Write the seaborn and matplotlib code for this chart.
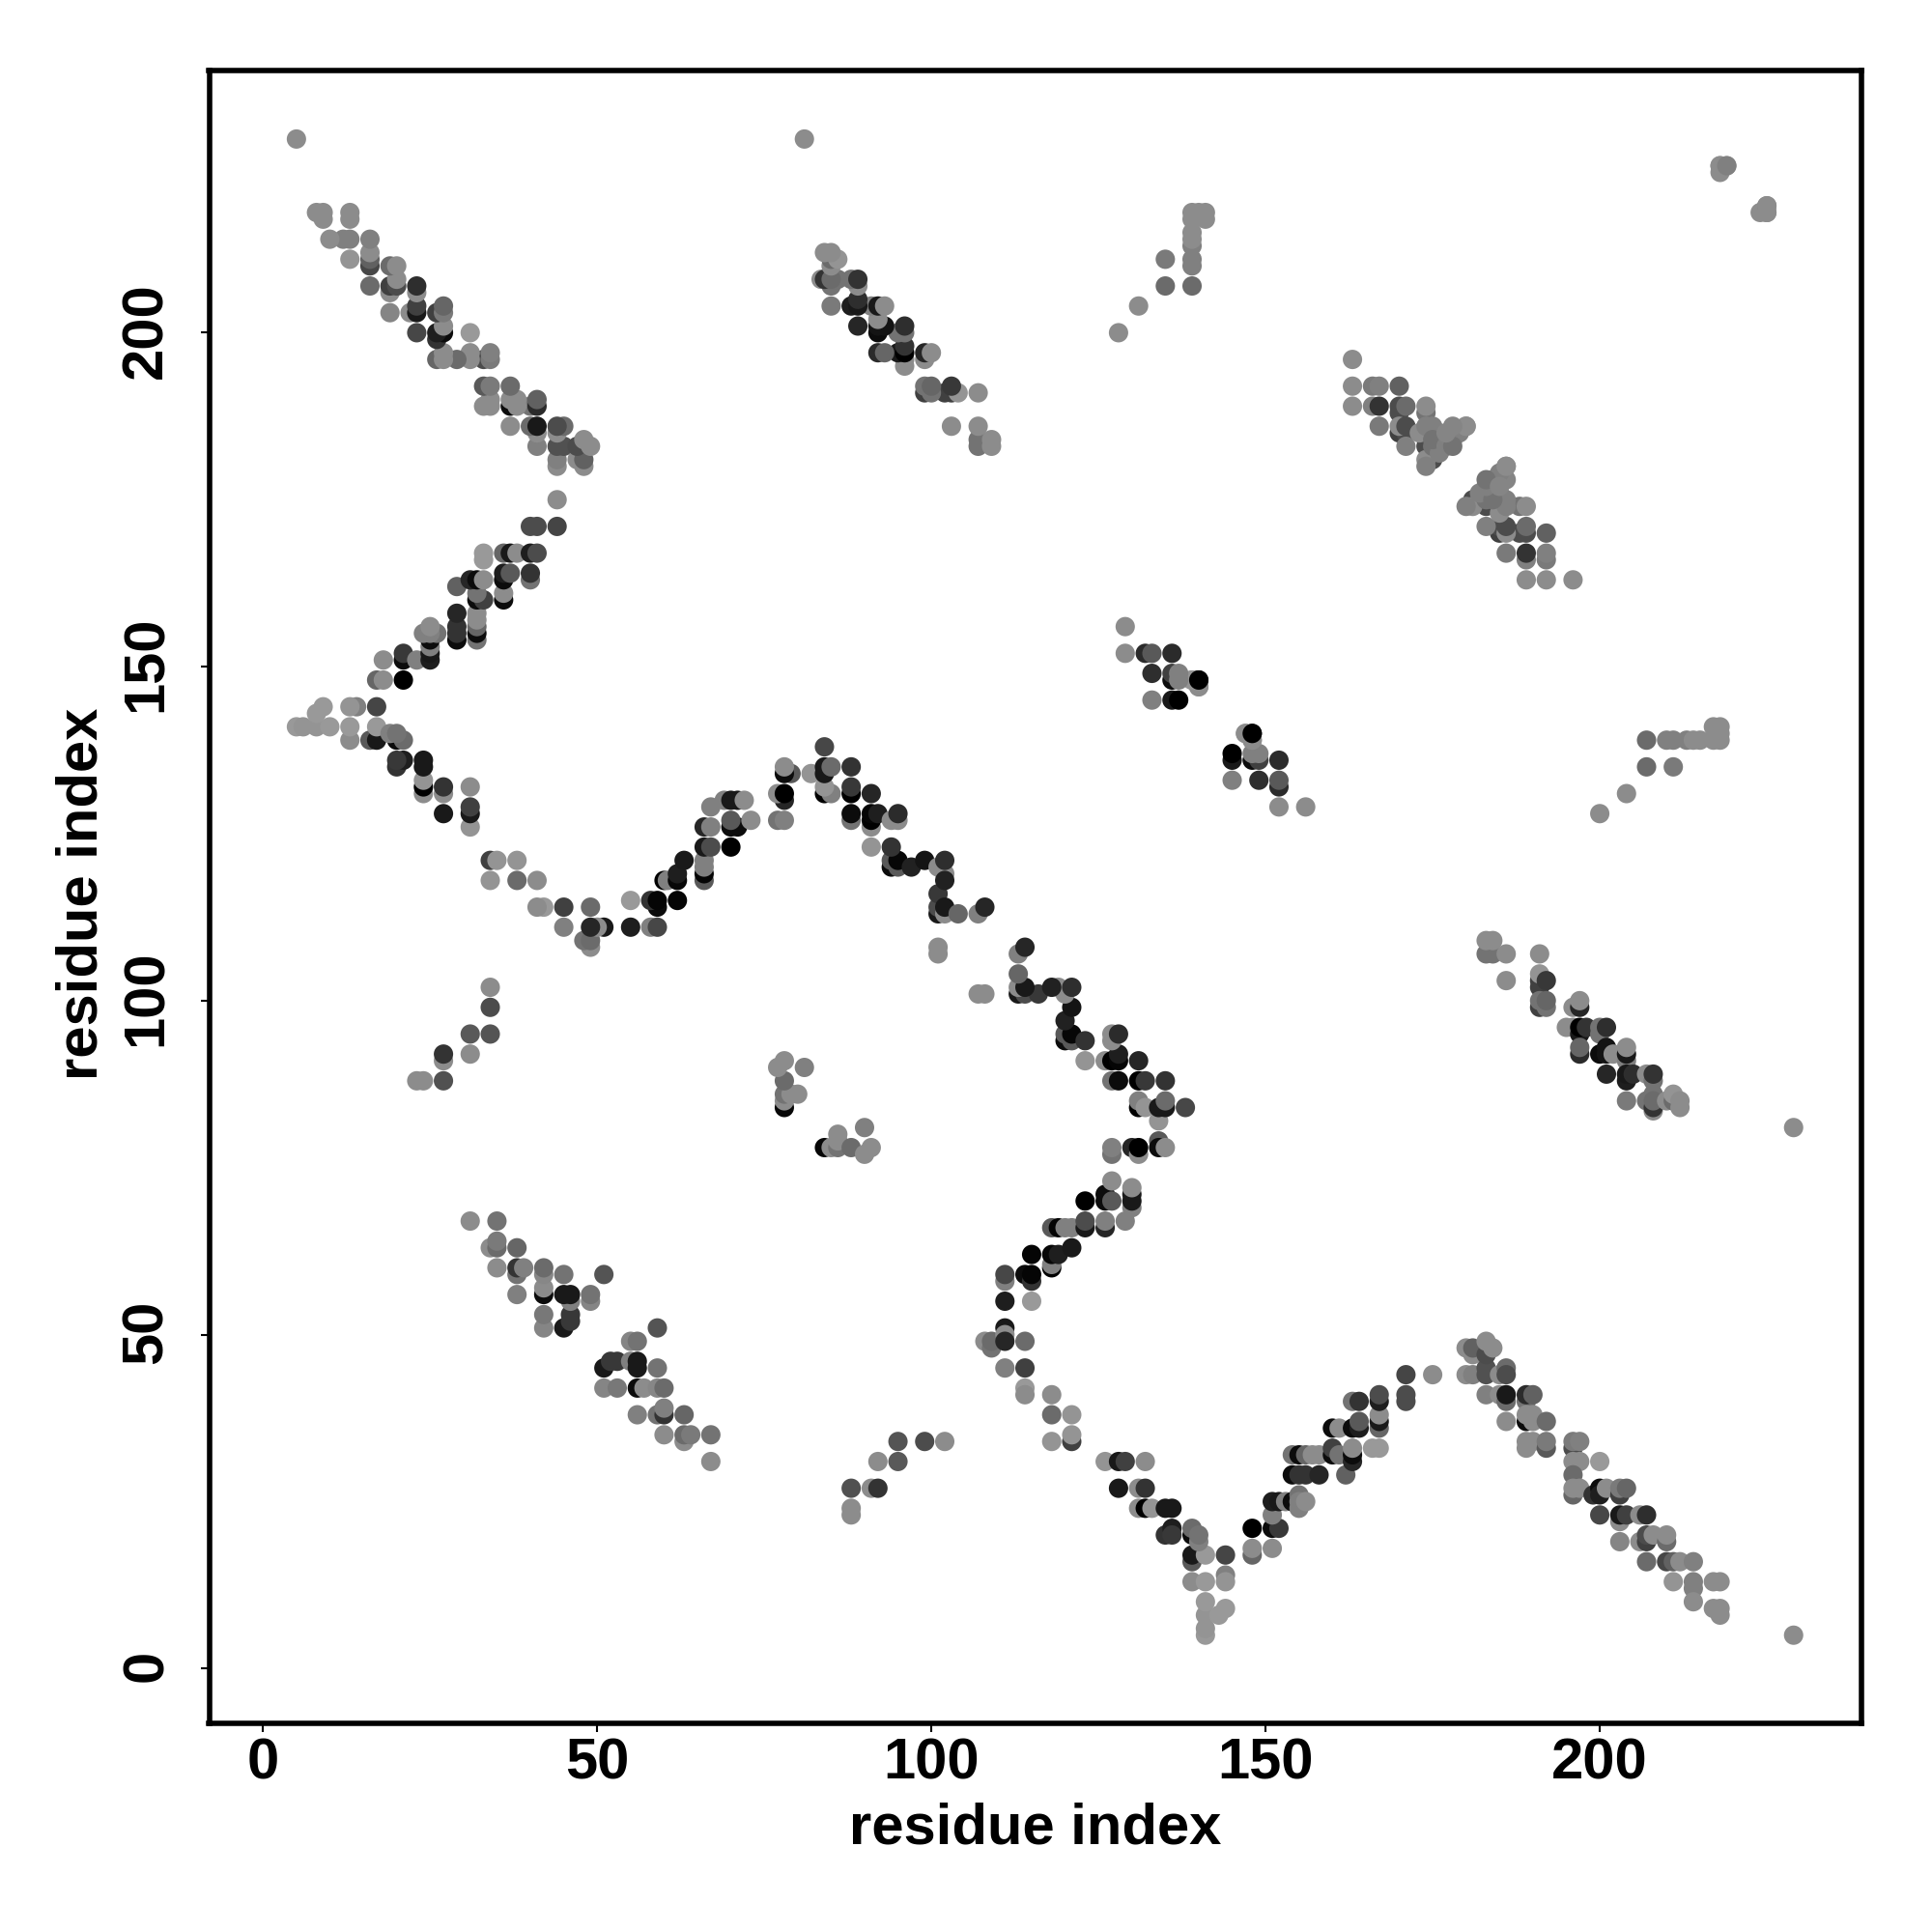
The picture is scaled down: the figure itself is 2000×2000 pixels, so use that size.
import matplotlib
matplotlib.use("Agg")
import matplotlib.pyplot as plt
from matplotlib.transforms import ScaledTranslation
import pandas as pd
import seaborn as sns

# contacts as (i, j, gray level), only one side of the symmetric map is listed
tail_contacts = [
    (141, 5, .6), (141, 6, .58), (141, 8, .58), (141, 10, .6), (143, 8, .6), (144, 9, .6),
    (139, 13, .55), (141, 13, .6), (144, 14, .5), (144, 13, .58), (139, 16, .35), (139, 17, .1),
    (141, 17, .6), (144, 17, .27), (135, 20, .2), (136, 21, .12), (136, 20, .22), (139, 20, .05),
    (139, 21, .42), (140, 19, .5), (140, 20, .45), (131, 24, .55), (132, 24, 0), (133, 24, .58),
    (135, 24, .1), (136, 24, .1), (128, 27, .1), (131, 27, .55), (132, 27, .2), (126, 31, .58),
    (128, 31, .1), (129, 31, .25), (132, 31, .55), (118, 34, .58), (121, 34, .25), (121, 35, .58),
    (118, 38, .42), (121, 38, .58), (114, 42, .6), (114, 41, .55), (118, 41, .55), (111, 45, .5),
    (114, 45, .25), (108, 49, .55), (109, 48, .45), (109, 49, .42), (111, 51, .1), (111, 50, .55),
    (111, 49, .15), (114, 49, .42), (111, 55, .12), (115, 55, .6),
]
rising_contacts = [
    (111, 58, .5), (111, 59, .28), (114, 59, .05), (115, 58, .2), (115, 59, .02), (115, 62, .02),
    (118, 60, 0), (118, 60.5, .5), (118, 62, .03), (119, 62, .12), (121, 63, .1), (118, 66, .35),
    (119, 66, .02), (120, 66, .5), (121, 66, .5), (123, 66, .1), (123, 67, .3), (126, 66, .15),
    (126, 67, .5), (129, 67, .5), (123, 70, 0), (126, 70, .05), (126, 71, .05), (127, 70, .35),
    (130, 69, .5), (130, 70, .1), (130, 71, .1), (130, 72, .55), (127, 73, .55),
]
center_contacts = [
    (127, 77, .45), (127, 78, .5), (130, 78, .15), (131, 77, .55), (131, 78, 0), (134, 79, .35),
    (134, 78, .05), (135, 78, .55), (134, 82, .58), (131, 84, 0), (131, 85, .5), (132, 84, .58),
    (134, 84, .1), (135, 84, .1), (135, 85, .42), (138, 84, .28), (127, 88, .45), (128, 88, .05),
    (131, 88, 0), (132, 88, .22), (135, 88, .2), (123, 91, .58), (126, 91, .55), (127, 91, 0),
    (128, 91, .02), (128, 92, .12), (131, 91, .15), (127, 94, .55), (127, 95, .55), (128, 95, .17),
    (120, 94, .05), (121, 94, .35), (120, 95, .35), (121, 95, .03), (123, 94, .2), (120, 97, .13),
    (121, 99, .08), (113, 101, .1), (114, 101, .3), (116, 101, .22), (107, 101, .55), (108, 101, .55),
    (120, 101, .55), (119, 102, .55), (113, 102, .55), (114, 102, .1), (118, 102, .13), (121, 102, .18),
    (113, 104, .4), (113, 107, .5), (114, 108, .15),
]
upper_band_contacts = [
    (148, 17, .4), (148, 18, .55), (148, 21, 0), (151, 18, .55), (151, 21, .05), (152, 21, .22),
    (151, 23, .5), (151, 25, .12), (152, 25, .1), (153, 25, .5), (154, 25, .05), (155, 24, .5),
    (155, 26, .45), (155, 25, .5), (156, 25, .55), (154, 29, .05), (155, 29, .2), (156, 29, .2),
    (158, 29, .15), (162, 29, .38), (154, 32, .45), (155, 32, .05), (156, 32, .4), (157, 32, .55),
    (158, 32, .55), (160, 32, .05), (160, 33, .25), (161, 32, .45), (163, 31, .15), (163, 32, .05),
    (163, 33, .55), (166, 33, .6), (167, 33, .6), (160, 36, .05), (161, 36, .55), (163, 36, .05),
    (164, 36, .12), (164, 37, .35), (167, 36, .4), (167, 37, .1), (167, 38, .55), (163, 40, .45),
    (164, 40, .2), (167, 40, .12), (167, 41, .3), (171, 40, .3), (171, 41, .3), (171, 44, .27),
    (175, 44, .55),
]
descent_contacts = [
    (180, 44, .55), (181, 44, .5), (183, 44, .32), (183, 45, .32), (185, 44, .55), (186, 45, .42),
    (186, 44, .3), (180, 48, .55), (181, 47, .55), (181, 48, .38), (183, 47, .3), (183, 49, .55),
    (184, 48, .55), (183, 41, .5), (185, 41, .55), (186, 40, .42), (186, 41, .1), (189, 40, .45),
    (189, 41, .17), (190, 41, .38), (186, 37, .55), (189, 37, .05), (189, 38, .55), (190, 37, .55),
    (190, 38, .55), (192, 37, .42), (189, 33, .55), (189, 34, .55), (190, 34, .55), (192, 33, .35),
    (192, 34, .48), (196, 33, .3), (196, 34, .48), (197, 34, .5), (196, 31, .55), (197, 31, .55),
    (200, 31, .6), (196, 29, .42), (196, 26, .4), (196, 27, .55), (197, 27, .55), (199, 26, .2),
    (200, 27, .05), (200, 26, .12), (201, 27, .55), (203, 26, .25), (203, 27, .48), (204, 27, .4),
    (200, 23, .28), (203, 22, .55), (203, 23, .1), (204, 23, .25), (206, 23, .55), (207, 23, .18),
    (203, 19, .52), (206, 19, .55), (207, 19, .25), (207, 20, .3), (208, 20, .55), (210, 19, .42),
    (210, 20, .55), (207, 16, .42), (210, 16, .28), (211, 16, .38), (212, 16, .55), (214, 16, .5),
    (211, 13, .58), (214, 12, .5), (214, 13, .5), (217, 13, .55), (218, 13, .55), (214, 10, .55),
    (218, 8, .55), (217, 9, .55), (218, 9, .55), (229, 5, .55),
]
right_block_contacts = [
    (183, 107, .45), (184, 107, .45), (186, 107, .55), (183, 109, .55), (184, 109, .55),
    (191, 107, .55), (186, 103, .55), (191, 102, .25), (191, 103, .25), (191, 104, .58), (192, 103, .22),
    (191, 99, .25), (192, 99, .45), (191, 100, .45), (192, 100, .4), (196, 99, .55), (197, 99, .15),
    (197, 100, .55), (195, 96, .55), (196, 96, .55), (197, 95, .1), (197, 96, 0), (198, 96, .2),
    (200, 95, .45), (200, 96, .45), (201, 96, .18), (197, 92, .17), (197, 93, .4), (200, 92, .05),
    (201, 92, .08), (201, 93, .08), (202, 92, .55), (204, 91, .5), (204, 92, .1), (204, 93, .55),
    (201, 89, .15), (204, 88, .12), (204, 89, .1), (205, 89, .18), (207, 89, .55), (208, 86, .45),
    (208, 88, .45), (208, 89, .2), (204, 85, .48), (207, 85, .45), (208, 83.5, .55), (208, 84, .2),
    (208, 85, .42), (210, 85, .55), (211, 85, .42), (211, 86, .58), (212, 84, .55), (212, 85, .55),
    (229, 81, .55),
]
middle_block_contacts = [
    (139, 148, .55), (140, 147, .55), (140, 148, 0), (147, 140, .55), (148, 139, .58), (148, 140, 0),
    (145, 136, .1), (145, 137, 0), (148, 136, .05), (149, 136, .25), (148, 137, .5), (149, 137, .5),
    (152, 136, .17), (145, 133, .5), (149, 133, .18), (152, 132, .17), (152, 133, .35),
    (152, 129, .55), (156, 129, .55),
]
helix_contacts = [
    (186, 180, .55), (178, 184, .5), (186, 178, .52), (176, 185, .55), (179, 185, .5), (180, 186, .55),
    (163, 196, .55), (163, 192, .55), (166, 192, .48), (167, 192, .5), (170, 192, .38), (163, 189, .55),
    (166, 189, .5), (167, 189, .2), (170, 189, .3), (170, 188, .3), (171, 189, .42), (174, 188, .45),
    (174, 189, .55), (167, 186, .48), (170, 185, .25), (171, 185, .3), (170, 186, .55), (171, 186, .3),
    (171, 183, .5), (174, 183, .3), (175, 181, .3), (174, 181, .55), (174, 180, .5), (175, 183, .45),
    (176, 182, .5), (173, 185, .55), (174, 186, .5), (175, 186, .5), (175, 184, .45), (177, 183, .5),
    (178, 183, .45), (177, 185, .52),
]
side_contacts = [
    (200, 128, .55), (204, 131, .55), (207, 135, .42), (207, 139, .42), (211, 135, .48),
    (210, 139, .5), (211, 139, .5), (213, 139, .5), (214, 139, .55), (215, 139, .55),
    (217, 139, .55), (218, 139, .55), (217, 141, .55), (218, 141, .55), (218, 140, .55),
    (225, 218, .55), (224, 218, .55), (225, 219, .5), (218, 225, .55), (219, 225, .55),
    (88, 23, .55), (88, 24, .55), (88, 27, .32), (91, 27, .55), (92, 27, .2), (92, 31, .55),
    (95, 31, .35), (95, 34, .33), (99, 34, .3), (102, 34, .55),
    (84, 78, .03), (85, 78, .55), (86, 78, .45), (86, 79, .55), (86, 80, .55), (88, 78, .42),
    (90, 77, .55), (90, 81, .5), (91, 78, .55),
]
lower_left_contacts = [
    (59, 51, .33), (55, 49, .52), (56, 49, .45), (51, 45, .1), (52, 46, .22), (53, 46, .22),
    (55, 46, .5), (56, 45, .1), (56, 46, .1), (59, 45, .45), (51, 42, .52), (53, 42, .47),
    (56, 42, .05), (57, 42, .55), (59, 42, .53), (60, 42, .42), (56, 38, .5), (59, 38, .45),
    (60, 38, .2), (60, 39, .5), (63, 38, .4), (60, 35, .55), (63, 34, .55), (63, 35, .42),
    (64, 35, .48), (67, 35, .45), (67, 31, .55),
]
tick_values = [0, 50, 100, 150, 200]

blocks = [tail_contacts, rising_contacts, center_contacts, upper_band_contacts, descent_contacts,
          right_block_contacts, middle_block_contacts, helix_contacts, side_contacts, lower_left_contacts]
contacts = pd.DataFrame([row for block in blocks for row in block], columns=["i", "j", "gray"])
both_sides = pd.concat([
    contacts,
    contacts.rename(columns={"i": "j", "j": "i"}),
], ignore_index=True)

sns.set_theme(style="white")
plt.rcParams["font.family"] = ["Liberation Sans", "DejaVu Sans"]
plt.rcParams["font.weight"] = "bold"

fig = plt.figure(figsize=(10, 10), dpi=200)
ax = fig.add_axes([216.5 / 2000, 1 - 1784 / 2000, (1927.3 - 216.5) / 2000, (1784 - 72.7) / 2000])
sns.scatterplot(data=both_sides, x="i", y="j", hue="gray", palette="gray", hue_norm=(0, 1),
                s=52, linewidth=0, legend=False, ax=ax)
ax.set_xlim(-8.06, 239.2)
ax.set_ylim(-8.2, 239.3)
ax.set_xticks(tick_values)
ax.set_yticks(tick_values)
ax.tick_params(axis="both", length=3.2, width=0.75, color="black", labelsize=21.5,
               labelcolor="black", bottom=True, left=True)
ax.tick_params(axis="x", pad=2)
ax.tick_params(axis="y", pad=10)
# rotated labels sit a little low otherwise
nudge = ScaledTranslation(0, 1 / 72, fig.dpi_scale_trans)
for label in ax.get_yticklabels():
    label.set_rotation(90)
    label.set_va("center")
    label.set_transform(label.get_transform() + nudge)
ax.set_xlabel("residue index", fontsize=21.5, fontweight="bold", color="black", labelpad=4.5)
ax.set_ylabel("residue index", fontsize=21.5, fontweight="bold", color="black", labelpad=4.5)
ax.yaxis.label.set_y(0.5015)
for spine in ax.spines.values():
    spine.set_linewidth(2.0)
    spine.set_color("black")

fig.savefig("out.png", dpi=200, facecolor="white")
plt.close(fig)
